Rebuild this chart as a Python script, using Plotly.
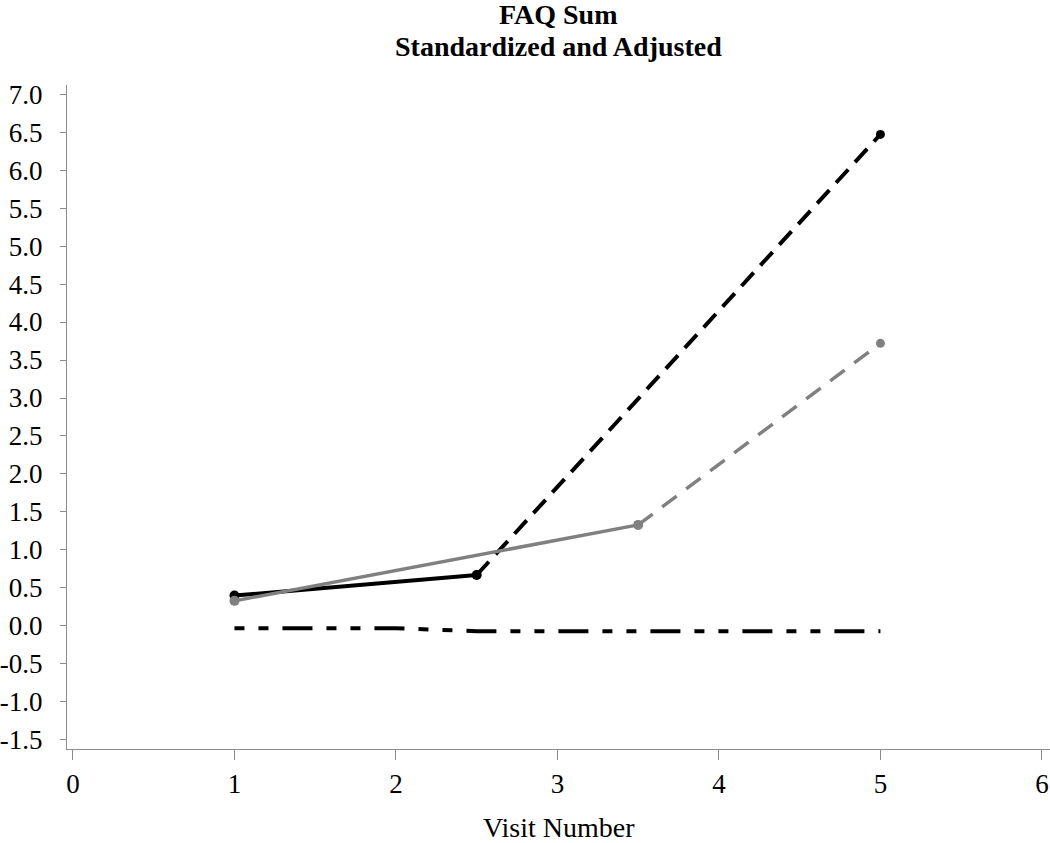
import plotly.graph_objects as go

# Data
black_solid_x = [1, 2.5]
black_solid_y = [0.40, 0.67]
black_dash_x = [2.5, 5]
black_dash_y = [0.67, 6.47]
gray_solid_x = [1, 3.5]
gray_solid_y = [0.33, 1.33]
gray_dash_x = [3.5, 5]
gray_dash_y = [1.33, 3.72]
ref_x = [1, 2, 2.5, 3.5, 5]
ref_y = [-0.03, -0.03, -0.07, -0.07, -0.07]

y_ticks = [-1.5, -1.0, -0.5, 0.0, 0.5, 1.0, 1.5, 2.0, 2.5, 3.0, 3.5, 4.0, 4.5, 5.0, 5.5, 6.0, 6.5, 7.0]
x_ticks = [0, 1, 2, 3, 4, 5, 6]

BLACK = "#000000"
GRAY = "#808080"
FONT = "Liberation Serif"

fig = go.Figure()

fig.add_trace(go.Scatter(x=ref_x, y=ref_y, mode="lines",
                         line=dict(color=BLACK, width=4, dash="10px,14px,10px,14px,30px,14px")))
fig.add_trace(go.Scatter(x=black_dash_x, y=black_dash_y, mode="lines+markers",
                         line=dict(color=BLACK, width=4, dash="18px,10px"),
                         marker=dict(size=9, color=BLACK)))
fig.add_trace(go.Scatter(x=gray_dash_x, y=gray_dash_y, mode="lines+markers",
                         line=dict(color=GRAY, width=3.5, dash="18px,12px"),
                         marker=dict(size=9, color=GRAY)))
fig.add_trace(go.Scatter(x=black_solid_x, y=black_solid_y, mode="lines+markers",
                         line=dict(color=BLACK, width=4),
                         marker=dict(size=10, color=BLACK)))
fig.add_trace(go.Scatter(x=gray_solid_x, y=gray_solid_y, mode="lines+markers",
                         line=dict(color=GRAY, width=3.5),
                         marker=dict(size=10, color=GRAY)))

fig.update_layout(
    width=1050, height=843,
    paper_bgcolor="white", plot_bgcolor="white",
    showlegend=False,
    margin=dict(l=67, r=0, t=85, b=94, autoexpand=False),
    font=dict(family=FONT, size=24, color="#000"),
    annotations=[
        dict(text="<b>FAQ Sum</b>", xref="paper", yref="paper", x=0.5, y=1.106,
             xanchor="center", yanchor="middle", showarrow=False,
             font=dict(family=FONT, size=28, color="#000")),
        dict(text="<b>Standardized and Adjusted</b>", xref="paper", yref="paper", x=0.5, y=1.058,
             xanchor="center", yanchor="middle", showarrow=False,
             font=dict(family=FONT, size=28, color="#000")),
        dict(text="Visit Number", xref="paper", yref="paper", x=0.5, y=-0.118,
             xanchor="center", yanchor="middle", showarrow=False,
             font=dict(family=FONT, size=28, color="#000")),
    ],
)

fig.update_xaxes(
    range=[-0.037, 6.05], tickvals=x_ticks, ticktext=[str(v) for v in x_ticks],
    showgrid=False, zeroline=False, showline=True, linecolor="#8c8c8c", linewidth=1.3,
    ticks="outside", ticklen=10, tickcolor="#8c8c8c", tickwidth=1.3,
    tickfont=dict(family=FONT, size=27), automargin=False, ticklabeloverflow="allow",
)
fig.update_yaxes(
    range=[-1.62, 7.12], tickvals=y_ticks, ticktext=[f"{v:.1f}" for v in y_ticks],
    showgrid=False, zeroline=False, showline=True, linecolor="#8c8c8c", linewidth=1.3,
    ticks="outside", ticklen=6, tickcolor="#8c8c8c", tickwidth=1.3,
    tickfont=dict(family=FONT, size=27), ticklabelstandoff=12, automargin=False,
    ticklabeloverflow="allow",
)

# Remove the default page margin so the figure sits at the window's top-left corner
fig.write_html("out.html", config={"displayModeBar": False},
               post_script="document.body.style.margin='0';document.body.style.overflow='hidden';")
